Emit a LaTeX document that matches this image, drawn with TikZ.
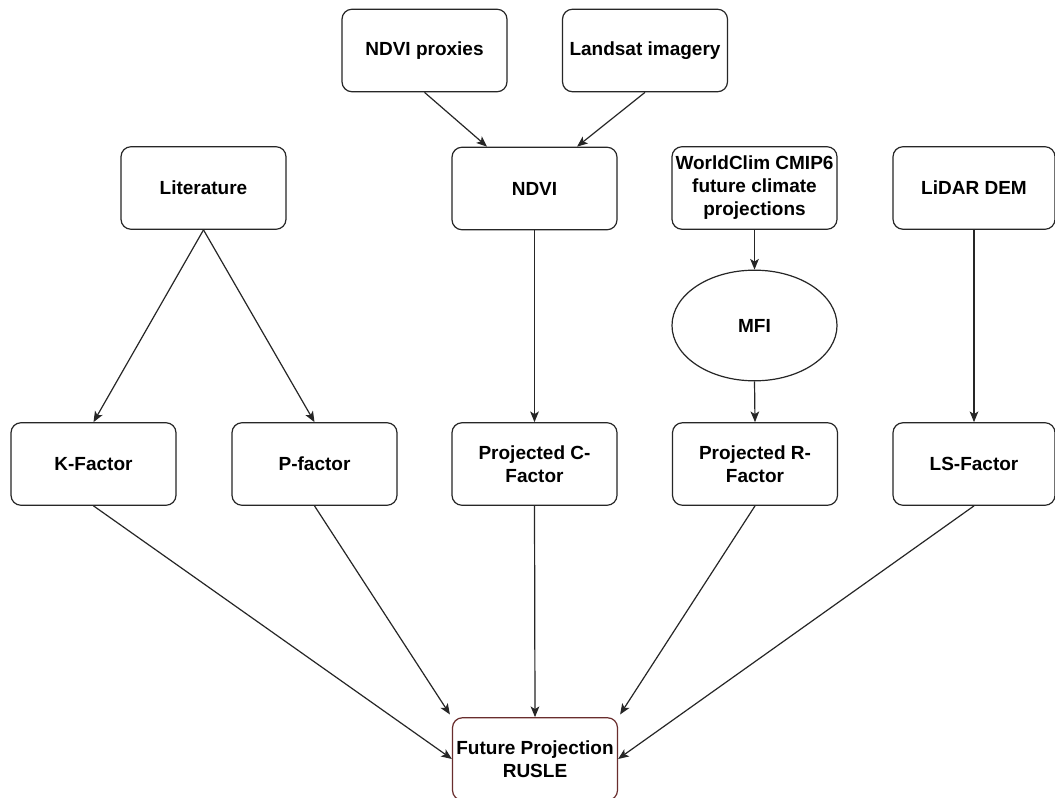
\documentclass[tikz,border=0pt]{standalone}
\usepackage{fontspec}
\setmainfont{Liberation Sans}
\usetikzlibrary{shapes.geometric,arrows.meta,calc}
\definecolor{rusleborder}{RGB}{105,45,45}
\begin{document}
\begin{tikzpicture}[x=0.75pt,y=-0.75pt,
  box/.style={draw=black!85, line width=0.9pt, rounded corners=7.5pt, minimum width=123.75pt, minimum height=61.9pt, inner sep=0pt, align=center, font=\fontsize{14.25pt}{17.3pt}\selectfont\bfseries},
  oval/.style={draw=black!85, line width=0.9pt, ellipse, minimum width=123.75pt, minimum height=83pt, inner sep=0pt, align=center, font=\fontsize{14.25pt}{17.3pt}\selectfont\bfseries},
  arr/.style={draw=black!85, line width=0.9pt, -{Stealth[length=8pt,width=6.5pt,inset=2pt]}}]
\useasboundingbox (0,0) rectangle (1055,798);
\fill[white] (0,0) rectangle (1055,798);
\node[box] (proxies) at (424.5,50.5) {NDVI proxies};
\node[box] (landsat) at (645,50.5) {Landsat imagery};
\node[box] (lit) at (203.5,188) {Literature};
\node[box] (ndvi) at (534.5,188.5) {NDVI};
\node[box] (wc) at (754.5,188) {WorldClim CMIP6\\future climate\\projections};
\node[box, minimum width=121.5pt] (lidar) at (974,188) {LiDAR DEM};
\node[oval] (mfi) at (754.5,325.5) {MFI};
\node[box] (k) at (93.5,464) {K-Factor};
\node[box] (p) at (314.5,464) {P-factor};
\node[box] (c) at (534.5,464) {Projected C-\\Factor};
\node[box] (r) at (755,464) {Projected R-\\Factor};
\node[box, minimum width=121.5pt] (ls) at (974,464) {LS-Factor};
\node[box, draw=rusleborder] (rusle) at (535,759) {Future Projection\\RUSLE};
\draw[arr] (proxies.south) -- ([xshift=-35.6pt]ndvi.north);
\draw[arr] (landsat.south) -- ([xshift=31.9pt]ndvi.north);
\draw[arr] (lit.south) -- (k.north);
\draw[arr] (lit.south) -- (p.north);
\draw[arr] (ndvi.south) -- (c.north);
\draw[arr] (wc.south) -- (mfi.north);
\draw[arr] (mfi.south) -- (r.north);
\draw[arr] (lidar.south) -- (ls.north);
\draw[arr] (k.south) -- (rusle.west);
\draw[arr] (p.south) -- ([xshift=-1.5pt,yshift=2pt]rusle.north west);
\draw[arr] (c.south) -- (rusle.north);
\draw[arr] (r.south) -- ([xshift=1.5pt,yshift=2pt]rusle.north east);
\draw[arr] (ls.south) -- (rusle.east);
\end{tikzpicture}
\end{document}
